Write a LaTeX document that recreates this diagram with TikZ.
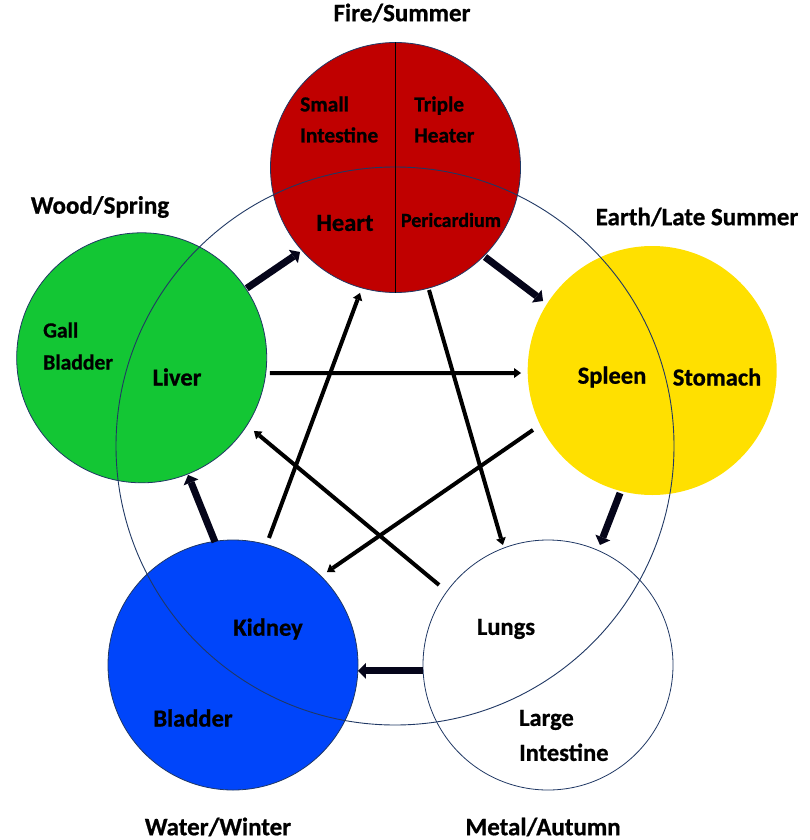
\documentclass[tikz,border=0pt]{standalone}
\usepackage{fontspec}
\setmainfont{Carlito}[BoldFeatures={FakeBold=0.8}]
\usetikzlibrary{arrows.meta,calc}
\definecolor{firered}{HTML}{C00000}
\definecolor{woodgreen}{HTML}{13C634}
\definecolor{earthyellow}{HTML}{FFE000}
\definecolor{waterblue}{HTML}{0045FA}
\definecolor{rimnavy}{HTML}{203864}
\definecolor{arrowink}{HTML}{05051A}
\begin{document}
\begin{tikzpicture}[x=1pt,y=-1pt,
  organ/.style={circle,minimum size=250pt,inner sep=0pt,draw=rimnavy,line width=0.8pt},
  season/.style={font=\fontsize{25}{28}\selectfont\bfseries,inner sep=0pt},
  organtext/.style={font=\fontsize{24.5}{35}\selectfont\bfseries,inner sep=0pt,align=left},
  smalltext/.style={font=\fontsize{21.4}{31}\selectfont\bfseries,inner sep=0pt,align=left},
  sheng/.style={line width=7pt,draw=arrowink,-{Triangle[length=8pt,width=16pt,line width=0pt]}},
  ke/.style={line width=4pt,draw=black,-{Triangle[length=7pt,width=10pt,line width=0pt]}},
]
\useasboundingbox (0,0) rectangle (809,840);
% five organ circles
\node[organ,fill=woodgreen] (wood) at (141.7,357.8) {};
\node[organ,fill=firered] (fire) at (395.5,167.5) {};
\node[organ,fill=earthyellow,draw=none,minimum size=249pt] (earth) at (652.2,370.5) {};
\node[organ,fill=waterblue] (water) at (233,665) {};
\node[organ,fill=white] (metal) at (548,665) {};
% great circle
\draw[rimnavy,line width=0.9pt] (395,446) circle[radius=279pt];
% divider of fire circle
\draw[line width=1.2pt] (fire.north) -- (fire.south);
% generating cycle (thick arrows)
\draw[sheng] ($(wood)+(33.5:126pt)$) -- ($(fire)+(221.5:127.5pt)$);
\draw[sheng] ($(fire)+(315:126.6pt)$) -- ($(earth)+(147.5:129.4pt)$);
\draw[sheng] ($(earth)+(255.3:126.7pt)$) -- ($(metal)+(66.6:130.8pt)$);
\draw[sheng] ($(metal)+(182.7:125.1pt)$) -- ($(water)+(357.3:125.1pt)$);
\draw[sheng] ($(water)+(98.3:124.3pt)$) -- ($(wood)+(291.6:126pt)$);
% controlling cycle (thin arrows)
\draw[ke] ($(wood)+(353.2:129.2pt)$) -- ($(earth)+(181.1:131.2pt)$);
\draw[ke] ($(earth)+(206.5:133.2pt)$) -- ($(water)+(44.7:132.2pt)$);
\draw[ke] ($(water)+(74.2:132pt)$) -- ($(fire)+(254.2:130.4pt)$);
\draw[ke] ($(fire)+(285.3:127pt)$) -- ($(metal)+(110.6:128.2pt)$);
\draw[ke] ($(metal)+(143.7:135.2pt)$) -- ($(wood)+(326.9:134pt)$);
% season labels
\node[season] (lfire) at (402,13) {Fire/Summer};
\node[season] (lwood) at (100,207) {Wood/Spring};
\node[season] (learth) at (697,217) {Earth/Late Summer};
\node[season] (lwater) at (218,827) {Water/Winter};
\node[season] (lmetal) at (543,827) {Metal/Autumn};
% organ labels
\node[smalltext,anchor=west] (tsi) at (300,119.5) {Small\\Intestine};
\node[smalltext,anchor=west] (tth) at (414,119.5) {Triple\\Heater};
\node[organtext] (theart) at (345,223) {Heart};
\node[organtext,font=\fontsize{20}{24}\selectfont\bfseries] (tperi) at (451,220) {Pericardium};
\node[smalltext,anchor=west,font=\fontsize{21.6}{32}\selectfont\bfseries] (tgb) at (43,346) {Gall\\Bladder};
\node[organtext] (tliver) at (177,377) {Liver};
\node[organtext] (tspleen) at (612,377) {Spleen};
\node[organtext] (tstomach) at (717,377) {Stomach};
\node[organtext] (tkidney) at (268,629) {Kidney};
\node[organtext] (tbladder) at (193,718) {Bladder};
\node[organtext] (tlungs) at (506,629) {Lungs};
\node[organtext,anchor=west] (tli) at (519,735.5) {Large\\Intestine};
\end{tikzpicture}
\end{document}
